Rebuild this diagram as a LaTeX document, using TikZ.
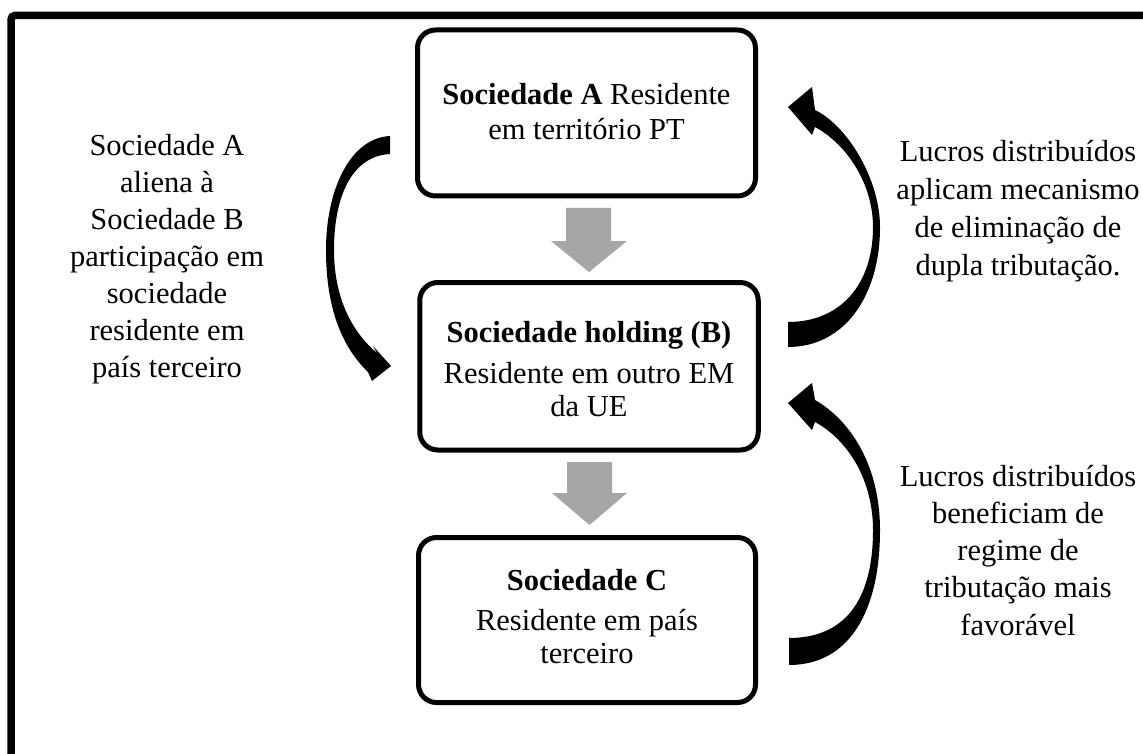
\documentclass[tikz,border=0pt]{standalone}
\usepackage{fontspec}
\setmainfont{Liberation Serif}
\definecolor{arrowgray}{RGB}{166,166,166}
\begin{document}
\begin{tikzpicture}[x=1pt,y=-1pt,
  box/.style={draw, line width=5pt, rounded corners=18pt, inner sep=0pt},
  boxtext/.style={inner sep=0pt, anchor=base, font=\fontsize{30.5}{33}\selectfont},
  sidetext/.style={inner sep=0pt, anchor=base, font=\fontsize{30.5}{37.5}\selectfont},
  downarrow/.style={fill=arrowgray},
  bentarrow/.style={fill=black}]
\useasboundingbox (0,0) rectangle (1143,754);
\fill[white] (0,0) rectangle (1143,754);

% outer frame (top and left edges)
\draw[line width=7.5pt, rounded corners=4pt] (11,754) -- (11,15.5) -- (1143,15.5);

% the three companies
\node[box, minimum width=338pt, minimum height=166pt] (A) at (586.5,113) {};
\node[box, minimum width=338.5pt, minimum height=167.5pt] (B) at (589,366.25) {};
\node[box, minimum width=337pt, minimum height=165pt] (C) at (587,620) {};

\node[boxtext] (At) at (586.5,105) {\begin{tabular}[t]{@{}c@{}}\textbf{Sociedade A} Residente\\[2pt] em território PT\end{tabular}};
\node[boxtext] (Bt) at (589,342) {\begin{tabular}[t]{@{}c@{}}\textbf{Sociedade holding (B)}\\[8pt] Residente em outro EM\\ da UE\end{tabular}};
\node[boxtext] (Ct) at (587,590) {\begin{tabular}[t]{@{}c@{}}\textbf{Sociedade C}\\[7pt] Residente em país\\ terceiro\end{tabular}};

% grey block arrows between the boxes
\fill[downarrow] (566,208) -- (611,208) -- (611,241) -- (627,241) -- (589,272) -- (551,241) -- (566,241) -- cycle;
\fill[downarrow] (567,462) -- (612,462) -- (612,493) -- (627,493) -- (589.5,525) -- (552,493) -- (567,493) -- cycle;

% curved arrow on the left: A -> B
\fill[bentarrow] (390,136) .. controls (350,138) and (326,190) .. (326,250)
  .. controls (326,310) and (343,348) .. (368,372)
  -- (372,381) -- (391,366) -- (373,346) -- (377,353)
  .. controls (352,332) and (334,298) .. (334,250)
  .. controls (334,196) and (352,156) .. (390,154) -- cycle;

% curved arrow on the right: B -> A
\fill[bentarrow] (788,347) .. controls (845,347) and (880,295) .. (880,227)
  .. controls (880,180) and (848,126) .. (815,110)
  -- (812,87) -- (788,107) -- (812,135) -- (815,127)
  .. controls (848,145) and (873,185) .. (873,227)
  .. controls (873,285) and (840,322) .. (788,322) -- cycle;

% curved arrow on the right: C -> B
\fill[bentarrow] (789,665) .. controls (850,665) and (880,610) .. (880,530)
  .. controls (880,465) and (850,420) .. (815,400)
  -- (812,383) -- (788,403) -- (812,430) -- (815,422)
  .. controls (848,440) and (873,480) .. (873,530)
  .. controls (873,600) and (845,638) .. (789,638) -- cycle;

% side notes
\node[sidetext, font=\fontsize{30.5}{37}\selectfont] (Lt) at (167,156) {\begin{tabular}[t]{@{}c@{}}Sociedade A\\ aliena à\\ Sociedade B\\ participação em\\ sociedade\\ residente em\\ país terceiro\end{tabular}};
\node[sidetext, font=\fontsize{30.5}{38}\selectfont] (R1t) at (1018,162) {\begin{tabular}[t]{@{}c@{}}Lucros distribuídos\\ aplicam mecanismo\\ de eliminação de\\ dupla tributação.\end{tabular}};
\node[sidetext, font=\fontsize{30.5}{37.25}\selectfont] (R2t) at (1018,486) {\begin{tabular}[t]{@{}c@{}}Lucros distribuídos\\ beneficiam de\\ regime de\\ tributação mais\\ favorável\end{tabular}};
\end{tikzpicture}
\end{document}
